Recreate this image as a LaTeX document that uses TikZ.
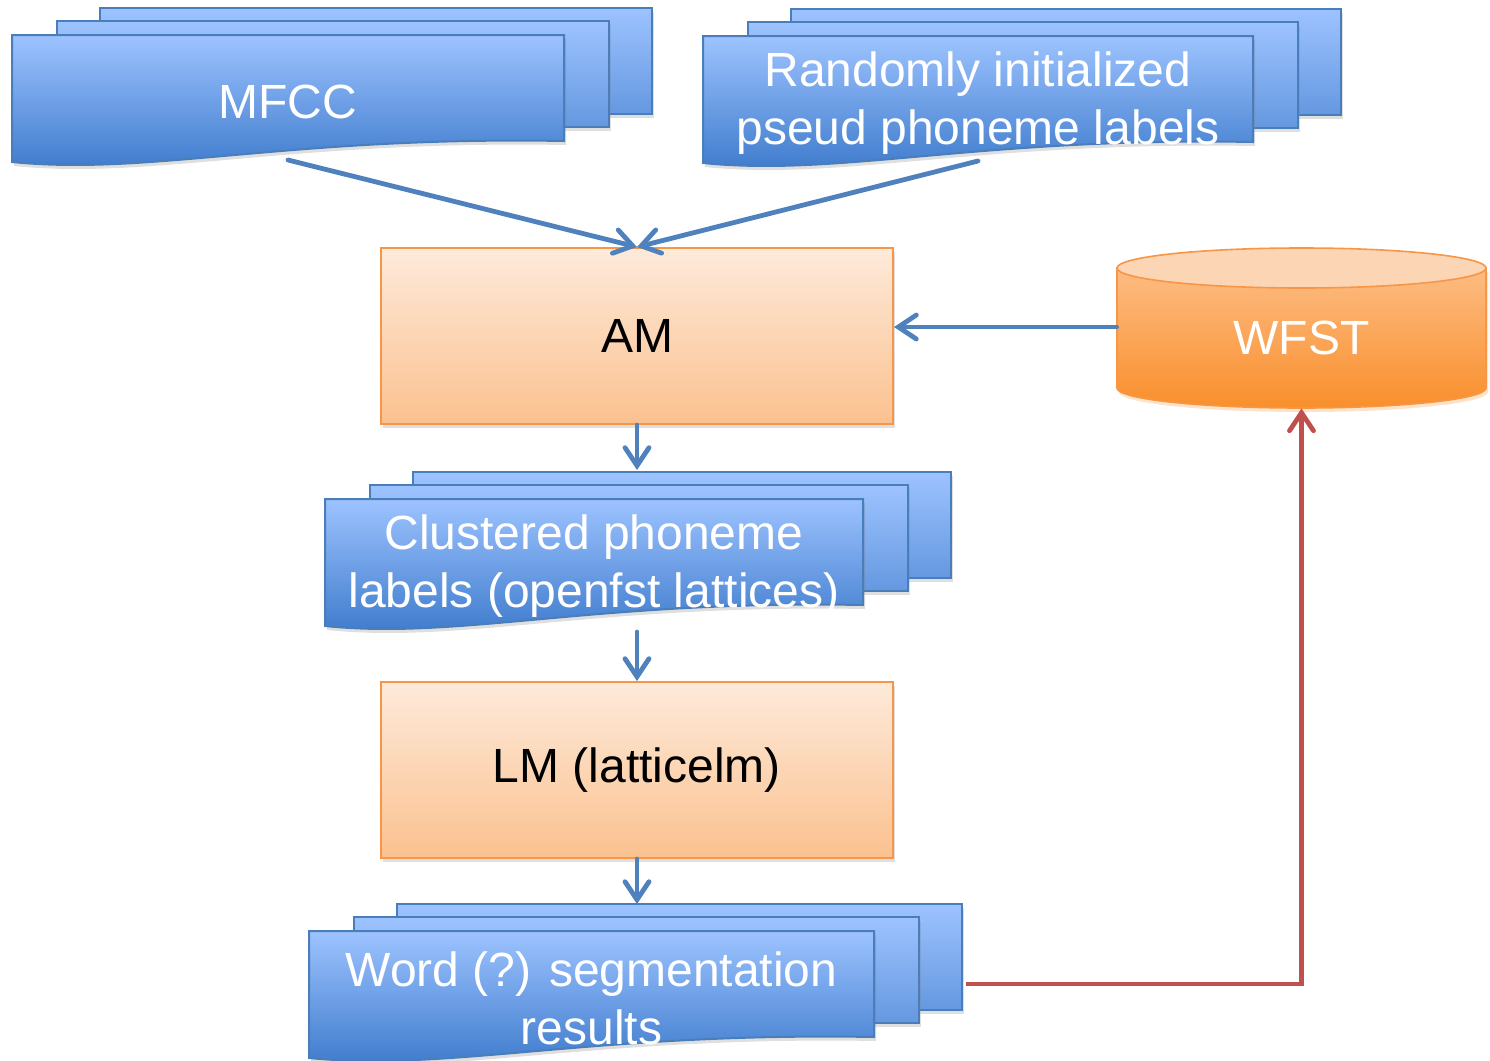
\documentclass[tikz,border=0pt]{standalone}
\usepackage{fontspec}
\setmainfont{Liberation Sans}
\usetikzlibrary{arrows.meta, positioning, calc, shadows}
\definecolor{docline}{HTML}{4A7EBB}
\definecolor{doctop}{HTML}{9DC3FF}
\definecolor{docmid}{HTML}{6598E0}
\definecolor{docbot}{HTML}{3A78CA}
\definecolor{boxline}{HTML}{F79646}
\definecolor{boxtop}{HTML}{FDEADA}
\definecolor{boxbot}{HTML}{FBC18F}
\definecolor{cyltop}{HTML}{FCD5B4}
\definecolor{cylbody}{HTML}{FDBC83}
\definecolor{cylbot}{HTML}{F98F2C}
\definecolor{flowblue}{HTML}{4F81BD}
\definecolor{flowred}{HTML}{C0504D}
\newcommand{\bigfont}{\fontsize{24}{29}\selectfont}
% three stacked sheets, front one with a wavy bottom edge
\newcommand{\docstack}[5]{%
  \path[sheet, top color=doctop, bottom color=docmid] ({#2+88},{#3-27}) rectangle ++(#4,106);
  \path[sheet, top color=doctop, bottom color=docmid] ({#2+45},{#3-14}) rectangle ++(#4,106);
  \path[sheet, top color=doctop, bottom color=docbot] (#2,#3) -- ({#2+#4},#3) -- ({#2+#4},{#3+106})
    .. controls ({#2+0.5*#4},{#3+101}) and ({#2+0.25*#4},{#3+141}) .. (#2,{#3+127}) -- cycle;
  \node[doctext] (#1) at ({#2+0.5*#4},{#3+67}) {#5};
  \coordinate (#1-b) at ({#2+0.5*#4},{#3+125});
}
\tikzset{
  sheet/.style={draw=docline, line width=1pt,
    drop shadow={shadow xshift=1pt, shadow yshift=-2pt, opacity=0.25}},
  doctext/.style={text=white, align=center, font=\bigfont, inner sep=0pt},
  procbox/.style={draw=boxline, line width=1pt, top color=boxtop, bottom color=boxbot,
    minimum width=256pt, minimum height=88pt, font=\bigfont, text=black,
    drop shadow={shadow xshift=1pt, shadow yshift=-2pt, opacity=0.25}},
  flow/.style={draw=flowblue, line width=2.4pt, line cap=round,
    -{Straight Barb[length=9pt, width=12pt, line cap=round]}},
  feedback/.style={flow, draw=flowred, line cap=butt}
}

\begin{document}
\begin{tikzpicture}[x=0.5pt, y=-0.5pt]
  \useasboundingbox (0,0) rectangle (1490,1061);

  % inputs
  \docstack{mfcc}{12}{35}{552}{MFCC}
  \docstack{rand}{703}{36}{550}{Randomly initialized\\pseud phoneme labels}

  % models
  \node[procbox] (am) at (637,336) {AM};
  \docstack{clust}{325}{499}{538}{Clustered phoneme\\labels (openfst lattices)}
  \node[procbox, below=128pt of am] (lm) {LM (latticelm)};
  \docstack{word}{309}{931}{565}{Word (?) segmentation\\results}

  % wfst store
  \path[fill=cylbot, opacity=0.25] (1119,272) -- (1119,392)
    arc[start angle=180, end angle=360, x radius=92.25pt, y radius=10pt] -- (1488,272) -- cycle;
  \path[draw=boxline, line width=0.8pt, top color=cylbody, bottom color=cylbot]
    (1117,268) -- (1117,388)
    arc[start angle=180, end angle=360, x radius=92.25pt, y radius=10pt] -- (1486,268) -- cycle;
  \draw[draw=boxline, line width=0.8pt, fill=cyltop] (1301.5,268) ellipse[x radius=92.25pt, y radius=10pt];
  \node[text=white, font=\bigfont, minimum width=184.5pt, minimum height=70pt] (wfst) at (1301.5,338) {WFST};

  % connectors
  \draw[flow] (mfcc-b) -- (am.north);
  \draw[flow] (rand-b) -- (am.north);
  \draw[flow] ([yshift=5.5pt]wfst.west) -- ([yshift=5.5pt]wfst.west -| am.east);
  \draw[flow] (am.south) -- (am.south |- 0,470);
  \draw[flow] ([yshift=-4pt]clust-b -| am.south) -- (lm.north);
  \draw[flow] (lm.south) -- (lm.south |- 0,904);
  \coordinate (wordout) at (966,984);
  \draw[feedback] (wordout) -| (wfst.south);
\end{tikzpicture}
\end{document}
